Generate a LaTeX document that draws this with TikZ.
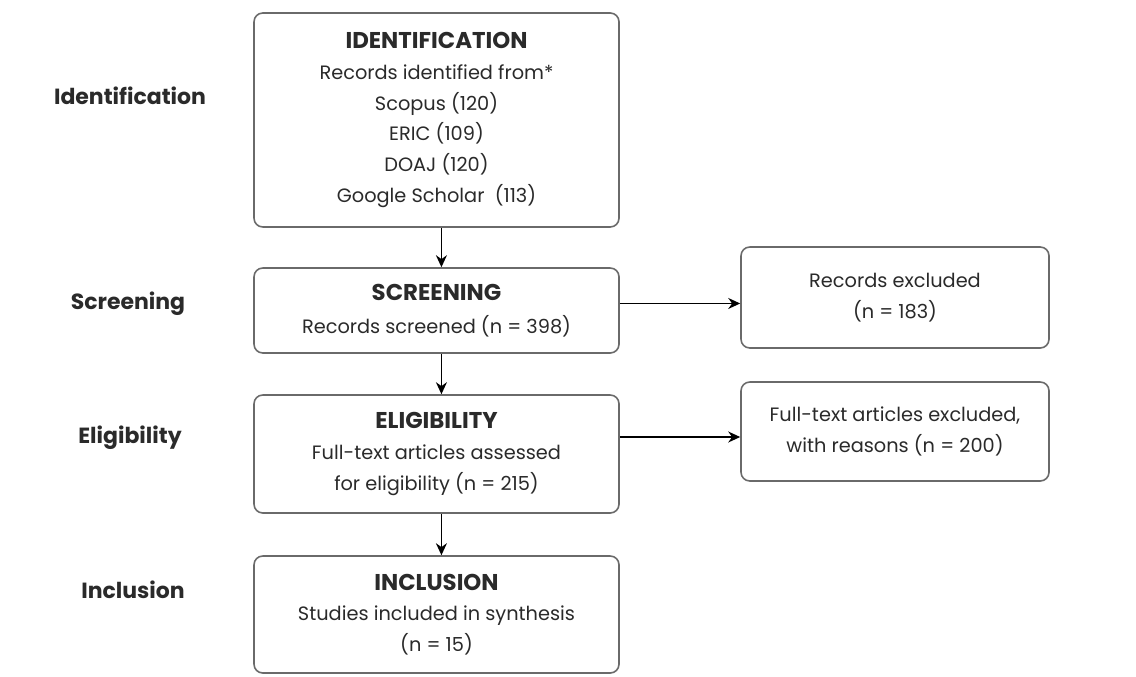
\documentclass[tikz,border=0pt]{standalone}
\usepackage{fontspec}
\setmainfont{Poppins}
\usetikzlibrary{arrows.meta,calc,positioning}
\definecolor{FlowInk}{HTML}{2A2A2A}
\definecolor{FlowEdge}{HTML}{6A6A6A}

\begin{document}
\begin{tikzpicture}[
    font=\fontsize{11}{17.5}\selectfont,
    text=FlowInk,
    box/.style={draw=FlowEdge,line width=0.9pt,rounded corners=5pt,fill=white,minimum width=7.3cm,align=center,inner sep=2pt},
    sidebox/.style={box,minimum width=6.16cm},
    stage/.style={font=\fontsize{12.5}{14}\selectfont\bfseries},
    arr/.style={-{Stealth[length=2.4mm,width=2.2mm]},line width=0.9pt,black}
  ]
    \useasboundingbox (0,0) rectangle (22.72,-13.54);
    \newcommand{\stagehead}[1]{{\fontsize{13}{15}\selectfont\bfseries #1}}

    % main column
    \node[box,minimum height=4.28cm] (ident) at (8.73,-2.40) {\stagehead{IDENTIFICATION}\\Records identified from*\\Scopus (120)\\ERIC (109)\\DOAJ (120)\\Google Scholar\ \ (113)};
    \node[box,minimum height=1.70cm] (screen) at (8.73,-6.21) {\stagehead{SCREENING}\\[1pt]Records screened (n = 398)};
    \node[box,minimum height=2.36cm] (elig) at (8.73,-9.08) {\stagehead{ELIGIBILITY}\\Full-text articles assessed\\for eligibility (n = 215)};
    \node[box,minimum height=2.34cm] (incl) at (8.73,-12.29) {\stagehead{INCLUSION}\\Studies included in synthesis\\(n = 15)};

    % exclusions
    \node[sidebox,minimum height=2.02cm] (recexcl) at (17.90,-5.95) {Records excluded\\(n = 183)};
    \node[sidebox,minimum height=1.98cm] (ftexcl) at (17.90,-8.63) {Full-text articles excluded,\\with reasons (n = 200)};

    % stage labels
    \node[stage] (lident) at (2.60,-1.92) {Identification};
    \node[stage] (lscreen) at (2.56,-6.08) {Screening};
    \node[stage] (lelig) at (2.60,-8.76) {Eligibility};
    \node[stage] (lincl) at (2.66,-11.80) {Inclusion};

    \draw[arr] ([xshift=2.8pt]ident.south) -- ([xshift=2.8pt]screen.north);
    \draw[arr] ([xshift=2.8pt]screen.south) -- ([xshift=2.8pt]elig.north);
    \draw[arr] ([xshift=2.8pt]elig.south) -- ([xshift=2.8pt]incl.north);
    \draw[arr] ([yshift=4pt]screen.east) -- ([yshift=4pt]screen.east -| recexcl.west);
    \draw[arr] ($(elig.east |- ftexcl.west)+(0,-0.11)$) -- ($(ftexcl.west)+(0,-0.11)$);
  \end{tikzpicture}
\end{document}
